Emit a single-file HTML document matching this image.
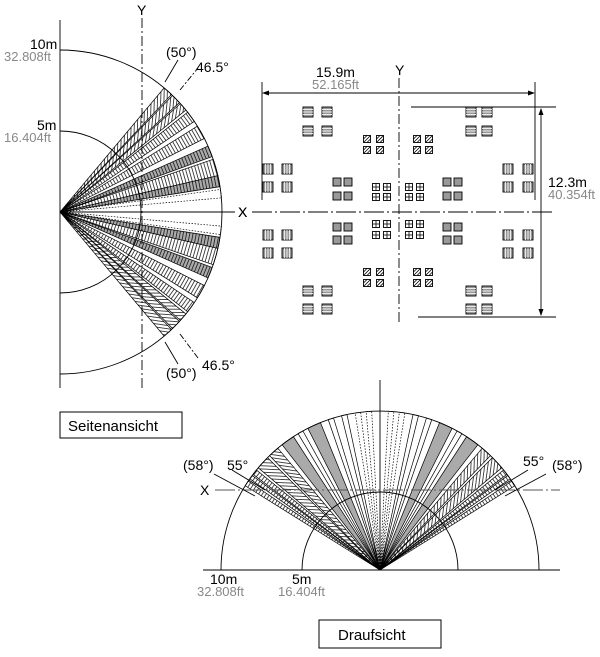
<!DOCTYPE html>
<html><head><meta charset="utf-8"><style>
body{margin:0;background:#fff;}
svg{display:block;font-family:"Liberation Sans",sans-serif;}
.g{fill:#888}
</style></head><body>
<svg id="s" width="600" height="657" viewBox="0 0 600 657" xmlns="http://www.w3.org/2000/svg">
<defs id="d"></defs>
<g id="sideg"></g>
<g id="topg"></g>
<g id="gridg"></g>
<g stroke="#000" fill="none" stroke-width="0.9">
<line x1="60" y1="20" x2="60" y2="388"/>
<path d="M60 50 A162 162 0 0 1 60 374"/>
<path d="M60 131 A81 81 0 0 1 60 293"/>
<line x1="60" y1="212" x2="235" y2="212"/>
<line x1="142" y1="18" x2="142" y2="388" stroke-dasharray="10 3 2 3"/>
<line x1="165" y1="82" x2="178" y2="60"/>
<line x1="180" y1="90" x2="198" y2="68" stroke-dasharray="6 2 2 2"/>
<line x1="165" y1="342" x2="178" y2="364"/>
<line x1="180" y1="334" x2="198" y2="358" stroke-dasharray="6 2 2 2"/>
</g>
<g font-size="14">
<text x="137" y="15">Y</text>
<text x="238" y="217">X</text>
<text x="30" y="49">10m</text>
<text x="4" y="61" class="g" font-size="13">32.808ft</text>
<text x="37" y="130">5m</text>
<text x="4" y="142" class="g" font-size="13">16.404ft</text>
<text x="166" y="57">(50°)</text>
<text x="196" y="72">46.5°</text>
<text x="166" y="378">(50°)</text>
<text x="202" y="370">46.5°</text>
</g>
<rect x="60" y="412" width="122" height="26" fill="none" stroke="#000"/>
<text x="68" y="431" font-size="15">Seitenansicht</text>
<g stroke="#000" fill="none" stroke-width="0.9">
<line x1="262" y1="82" x2="262" y2="200"/>
<line x1="535" y1="82" x2="535" y2="200"/>
<line x1="264" y1="93" x2="533" y2="93"/>
<line x1="399" y1="78" x2="399" y2="322" stroke-dasharray="10 3 2 3"/>
<line x1="252" y1="212" x2="555" y2="212" stroke-dasharray="20 3 2 3"/>
<line x1="411" y1="107" x2="556" y2="107"/>
<line x1="418" y1="317" x2="556" y2="317"/>
<line x1="541" y1="109" x2="541" y2="315"/>
</g>
<g fill="#000">
<path d="M262 93 l7 -2.5 v5z"/><path d="M535 93 l-7 -2.5 v5z"/>
<path d="M541 108 l-2.5 7 h5z"/><path d="M541 316 l-2.5 -7 h5z"/>
</g>
<g font-size="14">
<text x="316" y="77">15.9m</text>
<text x="312" y="89" class="g" font-size="13">52.165ft</text>
<text x="395" y="75">Y</text>
<text x="238" y="217">X</text>
<text x="548" y="187">12.3m</text>
<text x="548" y="199" class="g" font-size="13">40.354ft</text>
</g>
<g stroke="#000" fill="none" stroke-width="0.9">
<line x1="203" y1="570" x2="560" y2="570"/>
<line x1="380" y1="380" x2="380" y2="570"/>
<path d="M221 570 A159 159 0 0 1 539 570"/>
<path d="M302 570 A78 78 0 0 1 458 570"/>
<line x1="215" y1="490" x2="560" y2="490" stroke-dasharray="20 3 2 3" stroke="#555"/>
<line x1="214" y1="474" x2="255" y2="496"/>
<line x1="232" y1="470" x2="265" y2="490"/>
<line x1="546" y1="474" x2="505" y2="496"/>
<line x1="528" y1="470" x2="495" y2="490"/>
</g>
<g font-size="14">
<text x="200" y="495">X</text>
<text x="183" y="470">(58°)</text>
<text x="227" y="470">55°</text>
<text x="523" y="466">55°</text>
<text x="552" y="470">(58°)</text>
<text x="210" y="584">10m</text>
<text x="197" y="596" class="g" font-size="13">32.808ft</text>
<text x="292" y="584">5m</text>
<text x="278" y="596" class="g" font-size="13">16.404ft</text>
</g>
<rect x="319" y="620" width="122" height="28" fill="none" stroke="#000"/>
<text x="338" y="640" font-size="15">Draufsicht</text>
</svg>
<script>
var NS="http://www.w3.org/2000/svg",defsEl=document.getElementById('d');
function el(t,a,p){var e=document.createElementNS(NS,t);for(var k in a)e.setAttribute(k,a[k]);(p||defsEl).appendChild(e);return e;}
var pid=0;
function pat(ang,step,bg){var id='p'+(pid++);var p=el('pattern',{id:id,width:step,height:10,patternUnits:'userSpaceOnUse',patternTransform:'rotate('+ang+')'});
el('rect',{width:step,height:10,fill:bg||'#fff'},p);el('line',{x1:0.5,y1:0,x2:0.5,y2:10,stroke:'#000','stroke-width':0.7},p);return 'url(#'+id+')';}
function band(g,cx,cy,R,a1,a2,type){
 var r=Math.PI/180;var x1=cx+R*Math.cos(a1*r),y1=cy+R*Math.sin(a1*r),x2=cx+R*Math.cos(a2*r),y2=cy+R*Math.sin(a2*r);
 var dd='M'+cx+' '+cy+' L'+x1+' '+y1+' A'+R+' '+R+' 0 0 1 '+x2+' '+y2+' Z';
 var mid=(a1+a2)/2,fill='none',da=null;
 if(type=='gray')fill='#aaa';
 if(type=='vh')fill=pat(mid,3.2);
 if(type=='gvh')fill=pat(mid,3.2,'#aaa');
 if(type=='dh')fill=pat(mid+50,3.2);
 if(type=='dot'){da='1.5 1.5';}
 var e=el('path',{d:dd,fill:fill,stroke:'#000','stroke-width':0.7},g);if(da)e.setAttribute('stroke-dasharray',da);
}
var sideG=document.getElementById('sideg');
var sb=[[5,8,'dot'],[9,13,'gvh'],[13,19,'vh'],[20,24,'gvh'],[27,32,'vh'],[34,38,'vh'],[39,42,'dh'],[42.5,46,'dh'],[46.5,50,'dh']];
sb.forEach(function(b){band(sideG,60,212,162,-b[1],-b[0],b[2]);band(sideG,60,212,162,b[0],b[1],b[2]);});
var topG=document.getElementById('topg');
var tb=[[3,5,'dot'],[7,9,'dot'],[12,14,'none'],[17,19,'none'],[22,27,'gray'],[29,31,'none'],[33,38,'gray'],[40,44,'dh'],[45,50,'dh'],[51,53,'vh'],[53.5,55,'vh'],[56,58,'vh']];
tb.forEach(function(b){band(topG,380,570,159,-90-b[1],-90-b[0],b[2]);band(topG,380,570,159,-90+b[0],-90+b[1],b[2]);});
var gridG=document.getElementById('gridg');
function ln(g,x1,y1,x2,y2,c){el('line',{x1:x1,y1:y1,x2:x2,y2:y2,stroke:c||'#000','stroke-width':0.8},g);}
function sq(x,y,s,t){var g=el('g',{},gridG);var h=s/2;el('rect',{x:x-h,y:y-h,width:s,height:s,fill:(t=='p'||t=='h'||t=='v')?'#999':'#fff',stroke:'#000','stroke-width':0.9},g);
 if(t=='h'){for(var i=1;i<4;i++)ln(g,x-h,y-h+i*s/4,x+h,y-h+i*s/4,'#fff');}
 if(t=='v'){for(var i=1;i<4;i++)ln(g,x-h+i*s/4,y-h,x-h+i*s/4,y+h,'#fff');}
 if(t=='d'){ln(g,x-h,y+h,x+h,y-h);ln(g,x-h,y,x,y-h);ln(g,x,y+h,x+h,y);}
 if(t=='+'){ln(g,x-h,y,x+h,y);ln(g,x,y-h,x,y+h);}
}
function q(xs,ys,s,t){xs.forEach(function(x){ys.forEach(function(y){sq(x,y,s,t);});});}
q([308,327],[112,131],10,'h');q([471,487],[112,131],10,'h');q([308,327],[291,309],10,'h');q([471,487],[291,309],10,'h');
q([268,287],[169,187],10,'v');q([508,528],[169,187],10,'v');q([268,287],[235,253],10,'v');q([508,528],[235,253],10,'v');
q([367,380],[139,150],7,'d');q([417,429],[139,150],7,'d');q([367,380],[272,283],7,'d');q([417,429],[272,283],7,'d');
q([337,348],[182,196],8,'p');q([447,458],[182,196],8,'p');q([337,348],[227,240],8,'p');q([447,458],[227,240],8,'p');
q([376,387],[187,197],7,'+');q([409,420],[187,197],7,'+');q([376,387],[224,235],7,'+');q([409,420],[224,235],7,'+');
</script>
</body></html>
